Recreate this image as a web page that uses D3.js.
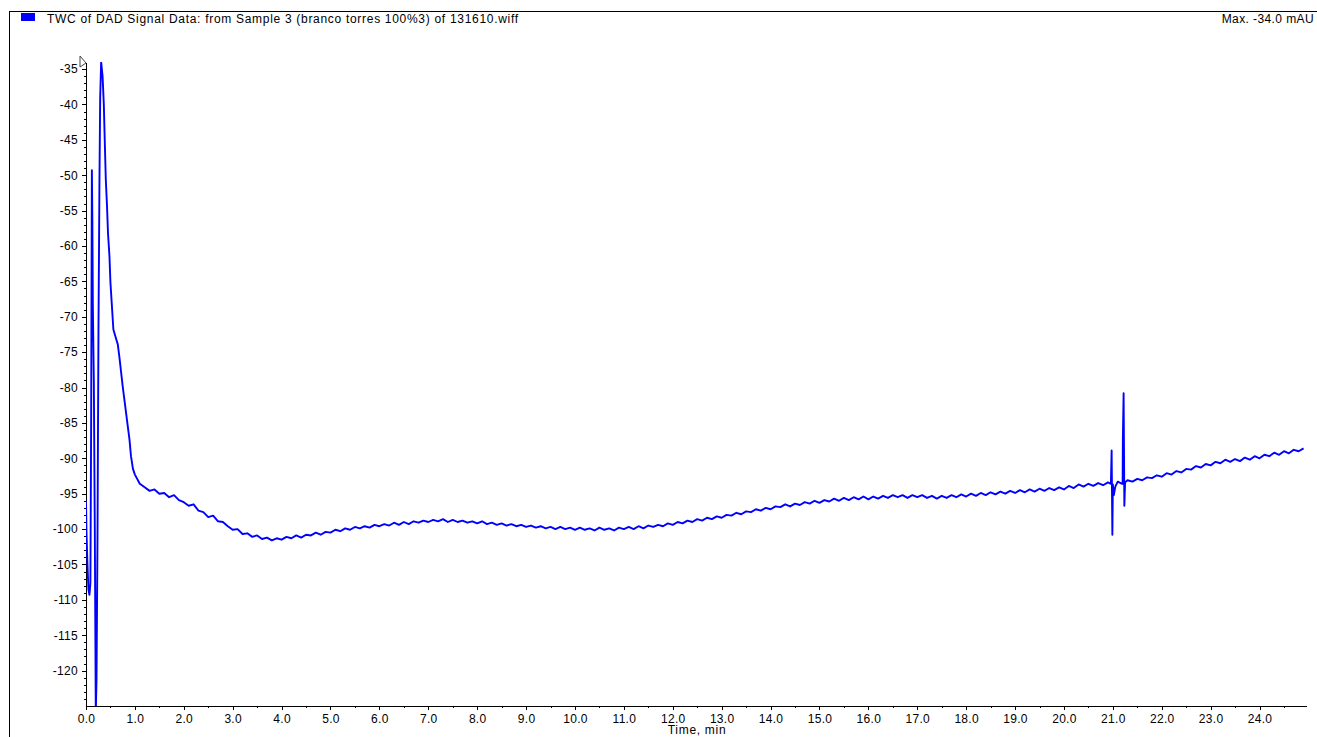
<!DOCTYPE html>
<html>
<head>
<meta charset="utf-8">
<script src="https://cdn.jsdelivr.net/npm/d3@7"></script>
<style>
  html, body { margin: 0; padding: 0; background: #fff; overflow: hidden; }
  svg { display: block; font-family: 'Liberation Sans', Arial, sans-serif; }
  .axis text { font-size: 12px; fill: #000; letter-spacing: 0.3px; }
  .axis path, .axis line { stroke: #000; shape-rendering: crispEdges; }
  .label { font-size: 12px; fill: #000; letter-spacing: 0.7px; }
</style>
</head>
<body>
<script>
const title = 'TWC of DAD Signal Data: from Sample 3 (branco torres 100%3) of 131610.wiff'
const maxLabel = 'Max. -34.0 mAU'
const xLabel = 'Time, min'

const xTicks = [0, 1, 2, 3, 4, 5, 6, 7, 8, 9, 10, 11, 12, 13, 14, 15, 16, 17, 18, 19, 20, 21, 22, 23, 24]
const yTicks = [-120, -115, -110, -105, -100, -95, -90, -85, -80, -75, -70, -65, -60, -55, -50, -45, -40, -35]

// first minute, read point by point (injection spikes)
const earlyTimes = [0.0, 0.01, 0.03, 0.05, 0.07, 0.09, 0.105, 0.12, 0.13, 0.14, 0.16, 0.18, 0.2, 0.215, 0.235, 0.255,
  0.275, 0.29, 0.31, 0.34, 0.365, 0.385, 0.405, 0.43, 0.45, 0.48, 0.5, 0.53, 0.56, 0.62, 0.65, 0.685, 0.75, 0.82,
  0.89, 0.92, 0.96]
const earlyValues = [-96.0, -100.5, -105.0, -108.5, -109.3, -107.6, -85.5, -49.3, -56.4, -68.4, -79.0, -100.0, -126.0,
  -121.3, -101.5, -72.0, -51.0, -39.0, -34.0, -36.1, -40.1, -45.5, -50.6, -54.4, -58.2, -61.5, -65.2, -68.5, -71.8,
  -73.2, -73.9, -75.8, -79.8, -83.6, -87.4, -89.7, -91.5]

// baseline from 1.0 min, one reading every 0.1 min
const baselineStart = 1.0
const baselineStep = 0.1
const baselineValues = [
  -92.3, -93.6, -94.1, -94.6, -94.4, -95.0, -94.9, -95.5, -95.2, -95.9,
  -96.2, -96.7, -96.5, -97.4, -97.6, -98.3, -98.1, -98.9, -99.0, -99.6,
  -100.1, -100.0, -100.7, -100.6, -101.1, -100.9, -101.4, -101.2, -101.6, -101.3,
  -101.5, -101.1, -101.3, -100.9, -101.2, -100.8, -100.9, -100.5, -100.8, -100.4,
  -100.5, -100.1, -100.3, -99.9, -100.1, -99.7, -99.9, -99.6, -99.8, -99.4,
  -99.6, -99.3, -99.5, -99.1, -99.4, -99.0, -99.3, -98.9, -99.1, -98.8,
  -99.0, -98.7, -98.9, -98.6, -99.0, -98.7, -99.0, -98.8, -99.1, -98.9,
  -99.2, -98.9, -99.3, -99.1, -99.4, -99.2, -99.5, -99.3, -99.6, -99.4,
  -99.7, -99.5, -99.8, -99.6, -99.9, -99.7, -100.0, -99.7, -100.0, -99.8,
  -100.1, -99.8, -100.1, -99.9, -100.2, -99.8, -100.1, -99.9, -100.2, -99.8,
  -100.0, -99.7, -100.0, -99.6, -99.9, -99.5, -99.7, -99.4, -99.6, -99.2,
  -99.4, -99.0, -99.2, -98.8, -99.0, -98.6, -98.8, -98.4, -98.6, -98.2,
  -98.4, -98.0, -98.1, -97.7, -97.9, -97.5, -97.6, -97.2, -97.4, -97.0,
  -97.2, -96.8, -96.9, -96.5, -96.8, -96.4, -96.6, -96.2, -96.4, -96.0,
  -96.3, -95.9, -96.1, -95.7, -96.0, -95.6, -95.9, -95.5, -95.8, -95.4,
  -95.8, -95.4, -95.7, -95.3, -95.6, -95.2, -95.5, -95.2, -95.6, -95.2,
  -95.5, -95.2, -95.6, -95.3, -95.7, -95.3, -95.6, -95.2, -95.5, -95.1,
  -95.4, -95.0, -95.3, -94.9, -95.2, -94.8, -95.1, -94.7, -95.0, -94.6,
  -94.9, -94.5, -94.8, -94.4, -94.7, -94.3, -94.6, -94.2, -94.5, -94.1,
  -94.4, -93.9, -94.2, -93.7, -94.0, -93.6, -93.9, -93.5, -93.8, -93.4,
  -93.7, -93.3, -93.6, -93.1, -93.3, -92.9, -93.1, -92.7, -92.8, -92.4,
  -92.6, -92.1, -92.3, -91.8, -92.0, -91.5, -91.6, -91.1, -91.3, -90.8,
  -91.0, -90.5, -90.7, -90.2, -90.5, -90.1, -90.4, -89.9, -90.2, -89.7,
  -90.0, -89.5, -89.7, -89.2, -89.5, -89.0, -89.3, -88.8, -89.0, -88.6
]

// the two small disturbances around 21 min
const spikeTimes = [20.96, 20.975, 20.99, 21.02, 21.05, 21.19, 21.205, 21.22, 21.235, 21.25]
const spikeValues = [-93.6, -88.9, -100.8, -95.2, -94.0, -93.6, -87.1, -80.8, -96.7, -93.4]

const width = 1317
const height = 737
const margin = { top: 62, right: 11, bottom: 31, left: 86 }

function buildSeries () {
  const pts = earlyTimes.map((t, i) => ({ t, v: earlyValues[i] }))
  baselineValues.forEach((v, i) => pts.push({ t: +(baselineStart + i * baselineStep).toFixed(2), v }))
  spikeTimes.forEach((t, i) => pts.push({ t, v: spikeValues[i] }))
  return pts.sort((a, b) => a.t - b.t)
}

function main () {
  const svg = d3.select('body').append('svg')
    .attr('width', width)
    .attr('height', height)

  // frame
  svg.append('path')
    .attr('d', `M9.5,${height}V11.5H${width}`)
    .attr('fill', 'none')
    .attr('stroke', '#000')
    .attr('shape-rendering', 'crispEdges')

  // legend
  svg.append('rect')
    .attr('x', 21).attr('y', 13).attr('width', 14).attr('height', 8)
    .attr('fill', '#0000ff')
  svg.append('text').attr('class', 'label')
    .attr('x', 47).attr('y', 23)
    .text(title)
  svg.append('text').attr('class', 'label')
    .attr('x', 1314).attr('y', 23)
    .attr('text-anchor', 'end')
    .style('letter-spacing', '0.4px')
    .text(maxLabel)

  const innerW = width - margin.left - margin.right
  const innerH = height - margin.top - margin.bottom
  const g = svg.append('g').attr('transform', 'translate(' + margin.left + ',' + margin.top + ')')

  const x = d3.scaleLinear().domain([0, 24.95]).range([0, innerW])
  const y = d3.scaleLinear().domain([-125, -34]).range([innerH, 0])

  // minor ticks
  g.append('g').attr('class', 'axis')
    .attr('transform', 'translate(0,' + innerH + ')')
    .call(d3.axisBottom(x).tickValues(d3.range(0.5, 24.95, 1)).tickSize(2).tickFormat(''))
    .call(s => s.select('.domain').remove())
  g.append('g').attr('class', 'axis')
    .call(d3.axisLeft(y).tickValues(d3.range(-124, -34, 1).filter(d => d % 5 !== 0)).tickSize(2).tickFormat(''))
    .call(s => s.select('.domain').remove())

  // major axes
  g.append('g').attr('class', 'axis')
    .attr('transform', 'translate(0,' + innerH + ')')
    .call(d3.axisBottom(x).tickValues(xTicks).tickSize(4).tickSizeOuter(0).tickPadding(4).tickFormat(d3.format('.1f')))
  g.append('g').attr('class', 'axis')
    .call(d3.axisLeft(y).tickValues(yTicks).tickSize(4).tickSizeOuter(0).tickPadding(4).tickFormat(d => String(d)))

  // marker at top of y axis
  g.append('path')
    .attr('d', 'M-6,-6L0,1L-6,5Z')
    .attr('fill', '#fff')
    .attr('stroke', '#444')

  svg.append('text').attr('class', 'label')
    .attr('x', 697).attr('y', 734)
    .attr('text-anchor', 'middle')
    .text(xLabel)

  svg.append('clipPath').attr('id', 'plot-clip')
    .append('rect').attr('x', margin.left).attr('y', margin.top).attr('width', innerW).attr('height', innerH)

  const line = d3.line().x(d => x(d.t)).y(d => y(d.v))

  svg.append('g').attr('clip-path', 'url(#plot-clip)')
    .append('path')
    .attr('transform', 'translate(' + margin.left + ',' + margin.top + ')')
    .datum(buildSeries())
    .attr('d', line)
    .attr('fill', 'none')
    .attr('stroke', '#0000ff')
    .attr('stroke-width', 1.9)
    .attr('stroke-linejoin', 'round')
}

main()
</script>
</body>
</html>
